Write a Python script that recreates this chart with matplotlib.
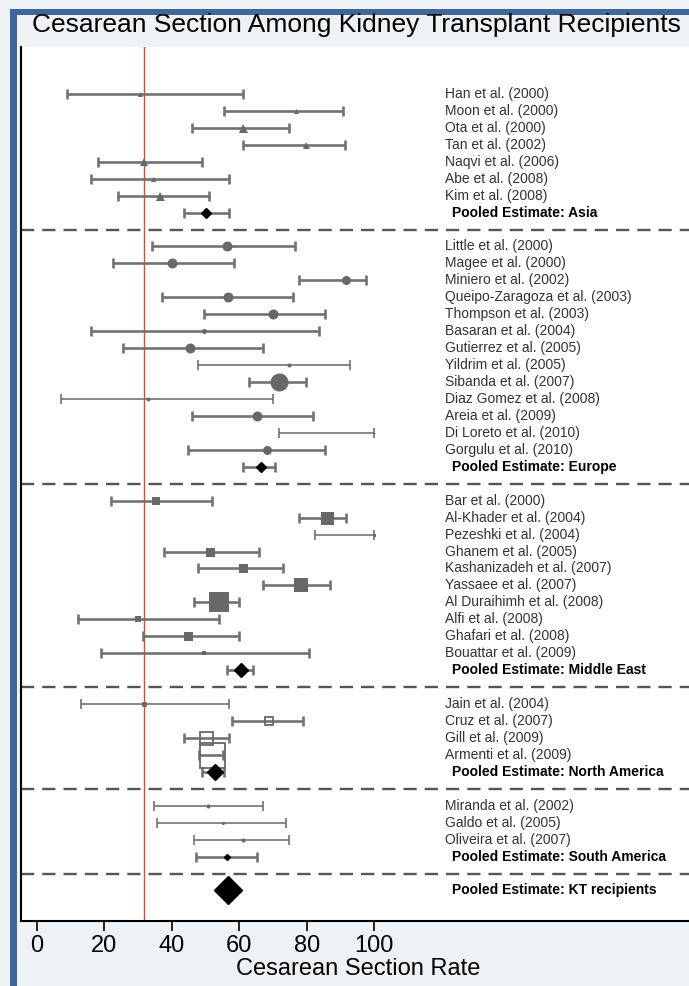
import matplotlib.pyplot as plt
from matplotlib.patches import Rectangle

plt.rcParams['font.family'] = ['Liberation Sans', 'DejaVu Sans']

# study level data: point estimate, 95% CI, relative weight
asia_names = ['Han et al. (2000)', 'Moon et al. (2000)', 'Ota et al. (2000)',
              'Tan et al. (2002)', 'Naqvi et al. (2006)', 'Abe et al. (2008)',
              'Kim et al. (2008)']
asia_est = [30.6, 76.7, 61.0, 79.7, 31.6, 34.5, 36.5]
asia_lo = [8.9, 55.5, 45.9, 61.0, 18.0, 15.9, 23.9]
asia_hi = [61.0, 90.7, 74.7, 91.4, 49.0, 57.0, 51.0]
asia_w = [5, 5, 9, 7, 8, 5, 9]

europe_names = ['Little et al. (2000)', 'Magee et al. (2000)', 'Miniero et al. (2002)',
                'Queipo-Zaragoza et al. (2003)', 'Thompson et al. (2003)',
                'Basaran et al. (2004)', 'Gutierrez et al. (2005)', 'Yildrim et al. (2005)',
                'Sibanda et al. (2007)', 'Diaz Gomez et al. (2008)', 'Areia et al. (2009)',
                'Di Loreto et al. (2010)', 'Gorgulu et al. (2010)']
europe_est = [56.3, 40.1, 91.6, 56.8, 69.9, 49.6, 45.5, 74.8, 71.8, 32.8, 65.3, 100.0, 68.2]
europe_lo = [34.2, 22.6, 77.7, 37.2, 49.6, 15.9, 25.6, 47.9, 62.8, 7.1, 45.9, 71.7, 44.8]
europe_hi = [76.6, 58.5, 97.5, 76.1, 85.5, 83.8, 67.1, 92.9, 79.7, 70.1, 81.9, 100.0, 85.5]
europe_w = [10, 10, 9, 10, 10, 5, 10, 4, 18, 4, 10, 2, 9]

me_names = ['Bar et al. (2000)', 'Al-Khader et al. (2004)', 'Pezeshki et al. (2004)',
            'Ghanem et al. (2005)', 'Kashanizadeh et al. (2007)', 'Yassaee et al. (2007)',
            'Al Duraihimh et al. (2008)', 'Alfi et al. (2008)', 'Ghafari et al. (2008)',
            'Bouattar et al. (2009)']
me_est = [35.3, 86.1, 100.0, 51.3, 61.0, 78.4, 54.0, 29.9, 44.9, 49.6]
me_lo = [22.1, 77.7, 82.5, 37.7, 47.9, 67.1, 46.6, 12.2, 31.5, 19.0]
me_hi = [52.0, 91.6, 100.0, 65.8, 73.1, 86.9, 59.9, 54.0, 59.9, 80.7]
me_w = [8, 13, 3, 9, 9, 14, 20, 6, 9, 5]

na_names = ['Jain et al. (2004)', 'Cruz et al. (2007)', 'Gill et al. (2009)',
            'Armenti et al. (2009)']
na_est = [31.6, 68.8, 50.1, 51.8]
na_lo = [13.1, 58.0, 43.7, 48.2]
na_hi = [57.0, 79.0, 57.0, 55.3]
na_w = [3, 8, 13, 25]

sa_names = ['Miranda et al. (2002)', 'Galdo et al. (2005)', 'Oliveira et al. (2007)']
sa_est = [50.8, 55.1, 61.0]
sa_lo = [34.7, 35.7, 46.6]
sa_hi = [67.2, 73.8, 74.7]
sa_w = [4, 3, 4]

pooled_labels = ['Pooled Estimate: Asia', 'Pooled Estimate: Europe',
                 'Pooled Estimate: Middle East', 'Pooled Estimate: North America',
                 'Pooled Estimate: South America']
pooled_est = [50.2, 66.4, 60.4, 52.8, 56.3]
pooled_lo = [43.7, 61.1, 56.3, 48.9, 47.2]
pooled_hi = [57.0, 70.7, 64.2, 55.5, 65.2]
pooled_w = [9, 9, 13, 16, 6]

overall_label = 'Pooled Estimate: KT recipients'
overall_est = 56.8
overall_lo = 54.6
overall_hi = 59.0
overall_w = 27

reference_rate = 31.6

groups = [
    (asia_names, asia_est, asia_lo, asia_hi, asia_w, '^', True),
    (europe_names, europe_est, europe_lo, europe_hi, europe_w, 'o', True),
    (me_names, me_est, me_lo, me_hi, me_w, 's', True),
    (na_names, na_est, na_lo, na_hi, na_w, 's', False),
    (sa_names, sa_est, sa_lo, sa_hi, sa_w, 'o', True),
]

GRAY = '#686868'
LINE = '#727272'
BLUE = '#41679a'
PX = 0.72  # points per pixel at dpi 100

fig = plt.figure(figsize=(6.89, 9.86), dpi=100, facecolor='#eff2f5')

# blue frame round the picture
fig.add_artist(Rectangle((10 / 689, 0), 7 / 689, 1 - 9 / 986,
                         transform=fig.transFigure, color=BLUE, lw=0))
fig.add_artist(Rectangle((10 / 689, 1 - 15 / 986), 1, 6 / 986,
                         transform=fig.transFigure, color=BLUE, lw=0))

ax = fig.add_axes([21 / 689, 1 - 921 / 986, 1 - 21 / 689 + 0.01, (921 - 47) / 986])
ax.set_facecolor('white')

txt_study = 121.1
txt_pool = 123.1


def ci_bar(x, y, lo, hi, lw):
    ax.errorbar([x], [y], xerr=[[x - lo], [hi - x]], fmt='none', ecolor=LINE,
                elinewidth=lw, capsize=3.8, capthick=lw, zorder=2)


row = 0
for g, (names, est, lo, hi, w, mk, filled) in enumerate(groups):
    for i in range(len(names)):
        lw = 1.2 if w[i] <= 4 else 1.9
        ci_bar(est[i], row, lo[i], hi[i], lw)
        ax.plot(est[i], row, marker=mk, ms=w[i] * PX, color=GRAY,
                mfc=GRAY if filled else 'none', mec=GRAY,
                mew=0 if filled else 1.3, ls='none', zorder=3)
        ax.text(txt_study, row, names[i], fontsize=10, color='#333333',
                va='center', ha='left')
        row += 1
    # pooled estimate of the region
    ci_bar(pooled_est[g], row, pooled_lo[g], pooled_hi[g], 1.9)
    ax.plot(pooled_est[g], row, marker='D', ms=pooled_w[g] / 1.414 * PX,
            color='black', ls='none', zorder=4)
    ax.text(txt_pool, row, pooled_labels[g], fontsize=10, fontweight='bold',
            color='black', va='center', ha='left')
    row += 1
    ax.axhline(row, color='#555555', lw=1.7, ls=(0, (5.6, 3.4)), zorder=1)
    row += 1

ci_bar(overall_est, row, overall_lo, overall_hi, 1.9)
ax.plot(overall_est, row, marker='D', ms=overall_w / 1.414 * PX, color='black',
        ls='none', zorder=4)
ax.text(txt_pool, row, overall_label, fontsize=10, fontweight='bold', color='black',
        va='center', ha='left')

ax.axvline(reference_rate, color='#e0482c', lw=1.0, zorder=1)

ax.set_xlim(-4.75, 195.5)
ax.set_ylim(48.8, -2.77)
ax.set_yticks([])
ax.set_xticks([0, 20, 40, 60, 80, 100])
ax.tick_params(axis='x', labelsize=17, length=7, width=1.2, pad=3)
ax.set_xlabel('Cesarean Section Rate', fontsize=17, labelpad=1)
for side in ['top', 'right']:
    ax.spines[side].set_visible(False)
for side in ['left', 'bottom']:
    ax.spines[side].set_linewidth(1.5)

fig.text(356 / 689, 1 - 25 / 986, 'Cesarean Section Among Kidney Transplant Recipients',
         fontsize=19, ha='center', va='center')

fig.savefig('out.png', dpi=100, facecolor=fig.get_facecolor())
